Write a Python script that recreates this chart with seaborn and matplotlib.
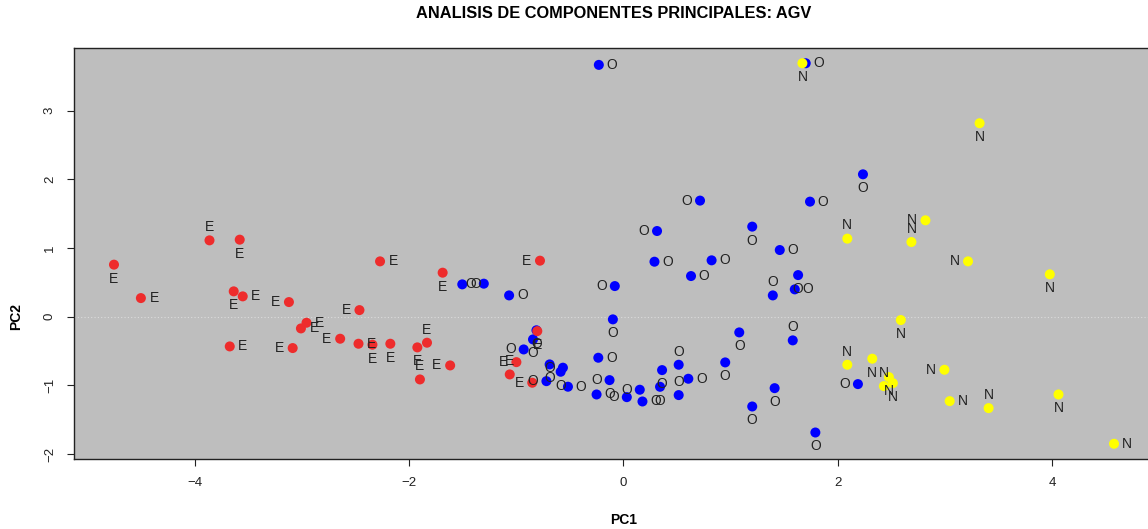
import matplotlib
matplotlib.use("Agg")
import matplotlib.pyplot as plt
import seaborn as sns
import pandas as pd

plt.rcParams['font.family'] = ['Liberation Sans', 'DejaVu Sans']

# ---- data (PC scores) ----
o_pc1 = [-0.230, 1.700, 2.234, 0.714, 1.740, 0.313, 1.201, 1.458, 0.289, 0.822,
         0.630, 1.629, 1.598, 1.393, -0.081, -1.504, -1.303, -1.067, -0.099, 1.080,
         1.579, 0.949, 0.515, 0.360, 0.341, 0.605, 0.515, 0.152, 0.177, 0.031,
         -0.130, -0.251, -0.235, -0.518, -0.689, -0.565, -0.586, -0.719, -0.844, -0.931,
         -0.812, 1.201, 1.410, 1.790, 2.187]
o_pc2 = [3.668, 3.692, 2.074, 1.691, 1.676, 1.248, 1.312, 0.971, 0.801, 0.821,
         0.592, 0.606, 0.398, 0.310, 0.446, 0.471, 0.481, 0.310, -0.039, -0.229,
         -0.345, -0.666, -0.700, -0.778, -1.021, -0.904, -1.142, -1.064, -1.235, -1.172,
         -0.924, -1.133, -0.598, -1.020, -0.695, -0.743, -0.802, -0.939, -0.331, -0.477,
         -0.198, -1.308, -1.041, -1.687, -0.982]
o_pos = [4, 4, 1, 2, 4, 2, 1, 4, 4, 4,
         4, 1, 4, 3, 2, 4, 2, 4, 1, 1,
         3, 1, 3, 1, 1, 4, 3, 2, 4, 2,
         2, 4, 4, 4, 1, 2, 1, 2, 1, 2,
         1, 1, 1, 1, 2]

e_pc1 = [-3.862, -3.580, -4.753, -4.502, -3.636, -3.552, -3.121, -2.957, -3.009, -3.673,
         -3.086, -2.643, -2.463, -2.271, -0.779, -1.687, -2.472, -2.342, -2.175, -1.923,
         -1.833, -1.899, -1.617, -0.804, -0.999, -1.061, -0.851]
e_pc2 = [1.112, 1.122, 0.758, 0.271, 0.369, 0.296, 0.213, -0.088, -0.171, -0.433,
         -0.457, -0.321, 0.096, 0.806, 0.816, 0.641, -0.394, -0.408, -0.394, -0.447,
         -0.379, -0.914, -0.710, -0.210, -0.662, -0.841, -0.962]
e_pos = [3, 1, 1, 4, 1, 4, 2, 4, 4, 4,
         2, 2, 2, 4, 2, 1, 4, 1, 1, 1,
         3, 3, 2, 1, 2, 3, 2]

n_pc1 = [1.669, 3.322, 2.817, 2.686, 2.088, 3.214, 3.977, 2.587, 2.088, 2.321,
         2.994, 2.476, 2.429, 2.513, 3.043, 3.406, 4.058, 4.576]
n_pc2 = [3.692, 2.818, 1.404, 1.088, 1.137, 0.806, 0.617, -0.049, -0.700, -0.612,
         -0.773, -0.880, -1.011, -0.968, -1.230, -1.332, -1.133, -1.851]
n_pos = [1, 1, 2, 3, 3, 2, 1, 1, 3, 1,
         2, 1, 3, 1, 4, 3, 1, 4]

groups = ['O', 'E', 'N']
colors = {'O': '#0000FF', 'E': '#EE2C2C', 'N': '#FFFF00'}

df = pd.DataFrame({
    'PC1': o_pc1 + e_pc1 + n_pc1,
    'PC2': o_pc2 + e_pc2 + n_pc2,
    'grupo': ['O'] * len(o_pc1) + ['E'] * len(e_pc1) + ['N'] * len(n_pc1),
    'pos': o_pos + e_pos + n_pos,
})

W, H = 1148, 529
fig = plt.figure(figsize=(W / 100, H / 100), dpi=100)
ax = fig.add_axes([74 / W, (H - 459) / H, (1154 - 74) / W, (459 - 48) / H])
ax.set_facecolor('#BEBEBE')

ax.axhline(0, color='#DCDCDC', linestyle=(0, (1, 2)), linewidth=0.8, zorder=1)

sns.scatterplot(data=df, x='PC1', y='PC2', hue='grupo', hue_order=groups,
                palette=colors, s=52, linewidth=0, legend=False, ax=ax, zorder=3)

offsets = {1: (0, -10), 2: (-9.5, 0), 3: (0, 9.5), 4: (9.5, 0)}
for _, r in df.iterrows():
    dx, dy = offsets[int(r['pos'])]
    ax.annotate(r['grupo'], (r['PC1'], r['PC2']), xytext=(dx, dy),
                textcoords='offset points', ha='center', va='center',
                fontsize=10, color='#222222', zorder=4)

ax.set_xlim(-5.126, 4.949)
ax.set_ylim(-2.073, 3.914)
ax.set_xticks([-4, -2, 0, 2, 4])
ax.set_yticks([-2, -1, 0, 1, 2, 3])
ax.tick_params(axis='both', direction='out', length=5, width=0.8,
               pad=8, labelsize=9.5, colors='#222222')
for lab in ax.get_yticklabels():
    lab.set_rotation(90)
    lab.set_va('center')

for sp in ax.spines.values():
    sp.set_color('#222222')
    sp.set_linewidth(1.0)

ax.set_xlabel('PC1', fontsize=10, fontweight='bold')
ax.set_ylabel('PC2', fontsize=10, fontweight='bold')
ax.xaxis.set_label_coords(550 / 1080, -61 / 411)
ax.yaxis.set_label_coords(-58 / 1080, (459 - 317) / 411)
ax.xaxis.label.set_va('center')
ax.yaxis.label.set_va('center')

fig.text(614 / W, 1 - 14 / H, 'ANALISIS DE COMPONENTES PRINCIPALES: AGV',
         ha='center', va='center', fontsize=11.8, fontweight='bold')

fig.savefig('out.png', dpi=100)
